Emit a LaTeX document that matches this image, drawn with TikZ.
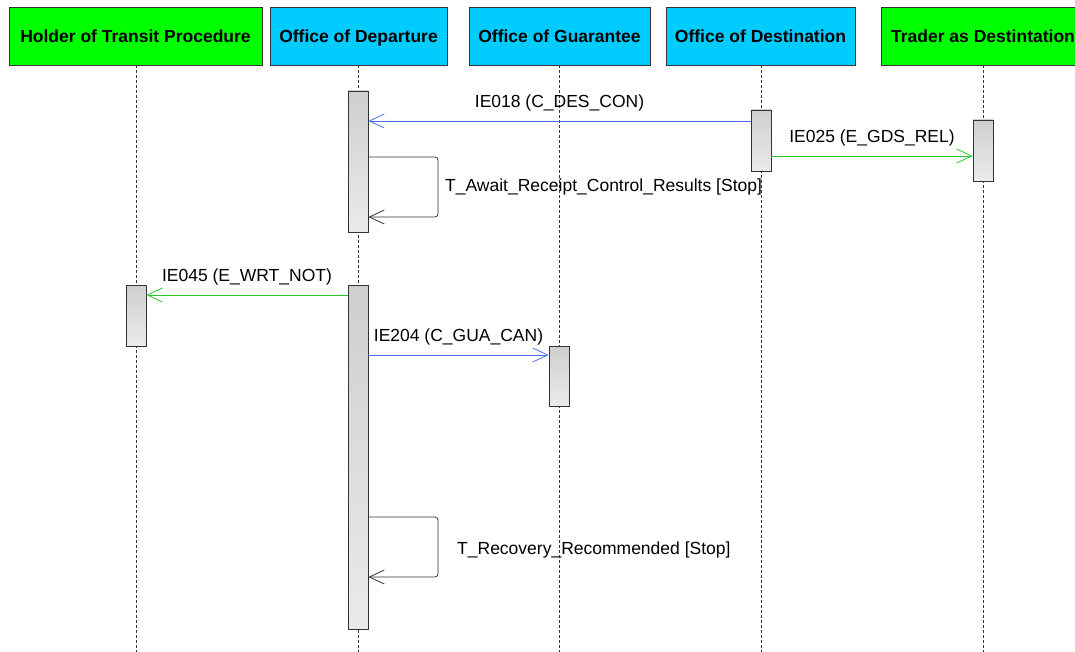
\documentclass[tikz,border=0pt]{standalone}
\usepackage{fontspec}
\setmainfont{Liberation Sans}
\usetikzlibrary{arrows.meta,calc}
\definecolor{hgreen}{RGB}{0,255,0}
\definecolor{hcyan}{RGB}{0,204,255}
\definecolor{mblue}{RGB}{70,110,240}
\definecolor{mgreen}{RGB}{40,200,40}
\definecolor{edgec}{RGB}{51,51,51}
\begin{document}
\begin{tikzpicture}[x=1pt,y=-1pt,
  hdr/.style={draw=edgec, line width=0.9pt, minimum height=58pt, inner sep=0pt,
    text height=12.6pt, text depth=0pt,
    font=\fontsize{17.5}{21}\selectfont\bfseries},
  lifeline/.style={draw=edgec, dash pattern=on 3pt off 2pt, line width=0.7pt},
  actbar/.style={draw=edgec, line width=0.8pt, top color=gray!38, bottom color=gray!16,
    minimum width=20pt, inner sep=0pt},
  msg/.style={line width=0.8pt, -{Straight Barb[length=15pt,width=14pt,line width=0.8pt]}},
  lbl/.style={font=\fontsize{17.5}{21}\selectfont, inner sep=0pt},
  selfmsg/.style={draw=edgec, line width=0.8pt, rounded corners=3pt,
    -{Straight Barb[length=15pt,width=14pt,line width=0.8pt]}}]
\useasboundingbox (0,0) rectangle (1075,652);
% headers
\node[hdr, fill=hgreen, minimum width=253pt] (h1) at (135.5,36) {Holder of Transit Procedure};
\node[hdr, fill=hcyan, minimum width=177pt] (h2) at (358.5,36) {Office of Departure};
\node[hdr, fill=hcyan, minimum width=181pt] (h3) at (559.5,36) {Office of Guarantee};
\node[hdr, fill=hcyan, minimum width=189pt] (h4) at (760.5,36) {Office of Destination};
\node[hdr, fill=hgreen, minimum width=204pt] (h5) at (983,36) {Trader as Destintation};
% lifeline ends
\coordinate (e1) at (136,652);
\coordinate (e2) at (358,652);
\coordinate (e3) at (559,652);
\coordinate (e4) at (761,652);
\coordinate (e5) at (983,652);
\draw[lifeline] (h1.south -| e1) -- (e1);
\draw[lifeline] (h2.south -| e2) -- (e2);
\draw[lifeline] (h3.south -| e3) -- (e3);
\draw[lifeline] (h4.south -| e4) -- (e4);
\draw[lifeline] (h5.south -| e5) -- (e5);
% activation bars
\node[actbar, minimum height=141pt] (b2a) at (358,161.5) {};
\node[actbar, minimum height=61pt] (b4) at (761,140.5) {};
\node[actbar, minimum height=61pt] (b5) at (983,150.5) {};
\node[actbar, minimum height=61pt] (b1) at (136,315.5) {};
\node[actbar, minimum height=344pt] (b2b) at (358,457) {};
\node[actbar, minimum height=60pt] (b3) at (559,376) {};
% messages
\draw[msg, mblue] (b4.west |- 0,121) -- node[lbl, text=black, yshift=18pt] (m1) {IE018 (C\_DES\_CON)} (b2a.east |- 0,121);
\draw[msg, mgreen] (b4.east |- 0,156) -- node[lbl, text=black, yshift=18pt] (m2) {IE025 (E\_GDS\_REL)} (b5.west |- 0,156);
\draw[selfmsg] (b2a.east |- 0,157) -- (438,157) -- (438,217) -- (b2a.east |- 0,217);
\node[lbl, anchor=west] (t1) at (445,187) {T\_Await\_Receipt\_Control\_Results [Stop]};
\draw[msg, mgreen] (b2b.west |- 0,295) -- node[lbl, text=black, yshift=18pt] (m3) {IE045 (E\_WRT\_NOT)} (b1.east |- 0,295);
\draw[msg, mblue] (b2b.east |- 0,355) -- node[lbl, text=black, yshift=18pt] (m4) {IE204 (C\_GUA\_CAN)} (b3.west |- 0,355);
\draw[selfmsg] (b2b.east |- 0,517) -- (438,517) -- (438,577) -- (b2b.east |- 0,577);
\node[lbl, anchor=west] (t2) at (457,550) {T\_Recovery\_Recommended [Stop]};
\end{tikzpicture}
\end{document}
